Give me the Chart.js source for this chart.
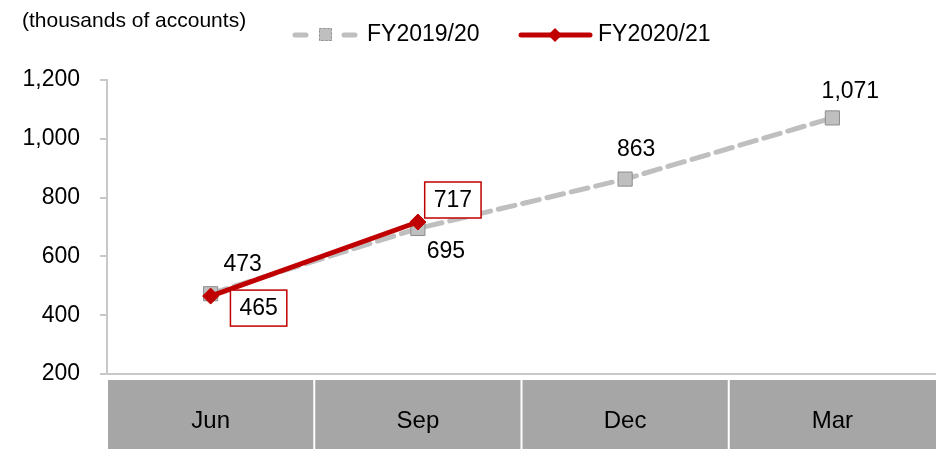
<!DOCTYPE html>
<html><head><meta charset="utf-8">
<script src="https://cdn.jsdelivr.net/npm/chart.js@4"></script>
<style>html,body{margin:0;padding:0;background:#fff}#wrap{width:936px;height:449px;position:relative}</style>
</head><body><div id="wrap"><canvas id="c" width="936" height="449"></canvas></div>
<script>
const categories = ['Jun', 'Sep', 'Dec', 'Mar'];
const fy1920 = [473, 695, 863, 1071];
const fy2021 = [465, 717, null, null];
const seriesNames = ['FY2019/20', 'FY2020/21'];
const unitLabel = '(thousands of accounts)';
const yTicks = [200, 400, 600, 800, 1000, 1200];

const FONT = '"Liberation Sans", Arial, sans-serif';
const GRAY_LINE = '#bfbfbf';
const RED = '#c00000';

// label offsets relative to points (style only)
const labelOffsets = [
  [[32,-30],[28,22],[11,-30],[18,-27]],
  [[48,12],[35,-22],[0,0],[0,0]]
];

function fmt(v){ return v.toLocaleString('en-US'); }

const overlay = {
  id: 'overlay',
  beforeDraw(chart){
    const ctx = chart.ctx, x = chart.scales.x, area = chart.chartArea;
    ctx.save();
    const top = area.bottom + 6, bottom = chart.height;
    const n = categories.length;
    const half = (x.getPixelForTick(1) - x.getPixelForTick(0)) / 2;
    for (let i = 0; i < n; i++) {
      const c = x.getPixelForTick(i);
      const l = c - half + 1, r = (i === n - 1) ? chart.width : c + half - 1;
      ctx.fillStyle = '#a6a6a6';
      ctx.fillRect(l, top, r - l, bottom - top);
    }
    ctx.restore();
  },
  afterDraw(chart){
    const ctx = chart.ctx;
    ctx.save();
    // unit label
    ctx.fillStyle = '#000';
    ctx.font = '21px ' + FONT;
    ctx.textBaseline = 'middle';
    ctx.textAlign = 'left';
    ctx.fillText(unitLabel, 22, 21);
    // legend
    ctx.font = '23px ' + FONT;
    // item 1
    ctx.strokeStyle = GRAY_LINE; ctx.lineWidth = 5; ctx.lineCap = 'round';
    ctx.beginPath(); ctx.moveTo(295, 35); ctx.lineTo(306, 35); ctx.stroke();
    ctx.beginPath(); ctx.moveTo(344, 35); ctx.lineTo(355, 35); ctx.stroke();
    ctx.lineCap = 'butt';
    ctx.fillStyle = GRAY_LINE; ctx.fillRect(319, 28, 13, 13);
    ctx.strokeStyle = '#8c8c8c'; ctx.lineWidth = 1; ctx.setLineDash([2,2]);
    ctx.strokeRect(319.5, 28.5, 12, 12); ctx.setLineDash([]);
    ctx.fillStyle = '#000';
    ctx.fillText(seriesNames[0], 367, 35);
    // item 2
    ctx.strokeStyle = RED; ctx.lineWidth = 5; ctx.lineCap = 'round';
    ctx.beginPath(); ctx.moveTo(521, 35); ctx.lineTo(590, 35); ctx.stroke();
    ctx.lineCap = 'butt';
    ctx.fillStyle = RED;
    ctx.beginPath(); ctx.moveTo(555, 28); ctx.lineTo(562, 35); ctx.lineTo(555, 42); ctx.lineTo(548, 35); ctx.closePath(); ctx.fill();
    ctx.fillStyle = '#000';
    ctx.fillText(seriesNames[1], 598, 35);

    // data labels
    ctx.font = '23px ' + FONT;
    ctx.textAlign = 'center';
    chart.data.datasets.forEach((ds, di) => {
      const meta = chart.getDatasetMeta(di);
      meta.data.forEach((pt, i) => {
        const v = ds.data[i];
        if (v == null) return;
        const [dx, dy] = labelOffsets[di][i];
        const tx = pt.x + dx, ty = pt.y + dy;
        const txt = fmt(v);
        if (di === 1) {
          const w = ctx.measureText(txt).width + 18;
          ctx.fillStyle = '#fff';
          ctx.fillRect(tx - w/2, ty - 18, w, 36);
          ctx.strokeStyle = RED; ctx.lineWidth = 1.5;
          ctx.strokeRect(tx - w/2, ty - 18, w, 36);
        }
        ctx.fillStyle = '#000';
        ctx.fillText(txt, tx, ty + 1);
      });
    });
    ctx.restore();
  }
};

new Chart(document.getElementById('c'), {
  type: 'line',
  data: {
    labels: categories,
    datasets: [
      {
        label: seriesNames[0], data: fy1920, order: 2,
        borderColor: GRAY_LINE, borderWidth: 5, borderDash: [17, 8], borderCapStyle: 'round',
        pointStyle: 'rect', pointRadius: 10, pointBackgroundColor: GRAY_LINE,
        pointBorderColor: '#8c8c8c', pointBorderWidth: 1, tension: 0
      },
      {
        label: seriesNames[1], data: fy2021, order: 1,
        borderColor: RED, borderWidth: 5,
        pointStyle: 'rectRot', pointRadius: 8, pointBackgroundColor: RED,
        pointBorderColor: RED, pointBorderWidth: 1, tension: 0
      }
    ]
  },
  options: {
    responsive: false, animation: false,
    layout: { autoPadding: false, padding: { top: 80, right: 0, left: 0, bottom: 0 } },
    plugins: { legend: { display: false }, tooltip: { enabled: false }, title: { display: false } },
    scales: {
      x: {
        offset: true,
        grid: { display: false, drawTicks: false },
        border: { display: true, color: '#c8c8c8', width: 2 },
        ticks: { color: '#000', font: { family: FONT, size: 24 }, padding: 33 },
        afterFit(s){ s.height = 75; s.paddingLeft = 0; s.paddingRight = 0; }
      },
      y: {
        min: 200, max: 1200,
        grid: { drawOnChartArea: false, tickLength: 7, color: '#c8c8c8', lineWidth: 2 },
        border: { display: true, color: '#c8c8c8', width: 2 },
        ticks: { stepSize: 200, color: '#000', font: { family: FONT, size: 23 }, padding: 20,
          callback: v => fmt(v) },
        afterFit(s){ s.width = 107; }
      }
    }
  },
  plugins: [overlay]
});
</script></body></html>
